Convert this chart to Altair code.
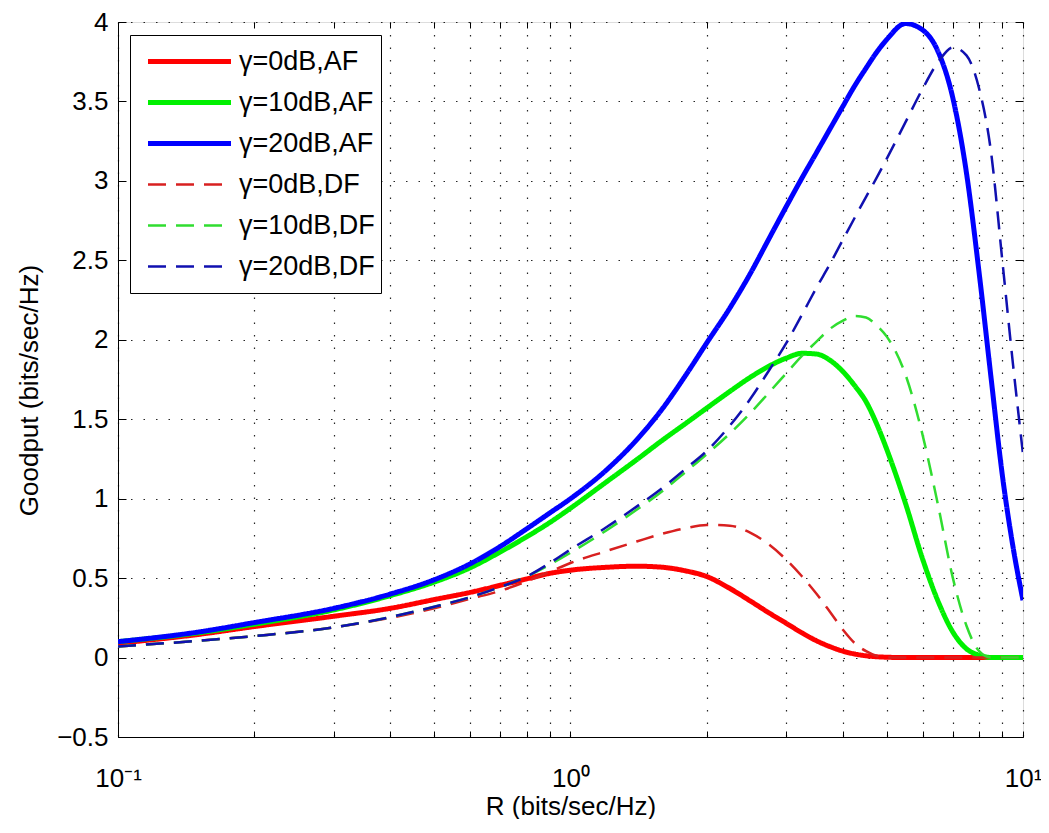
import altair as alt
import pandas as pd

# ---------------- data ----------------
R = [0.1, 0.15, 0.2, 0.3, 0.4, 0.5, 0.6, 0.7, 0.8, 0.9, 1.0, 1.2, 1.4, 1.6, 1.8,
     2.0, 2.25, 2.5, 2.75, 3.0, 3.25, 3.5, 3.75, 4.0, 4.25, 4.5, 4.75, 5.0,
     5.5, 6.0, 6.5, 7.0, 7.5, 8.0, 8.5, 9.0, 9.5, 10.0]

af_0dB = [0.09, 0.145, 0.195, 0.26, 0.31, 0.365, 0.41, 0.455, 0.495, 0.53, 0.55,
          0.568, 0.575, 0.568, 0.545, 0.51, 0.435, 0.355, 0.28, 0.215, 0.155, 0.105,
          0.068, 0.04, 0.022, 0.011, 0.005, 0.002,
          0, 0, 0, 0, 0, 0, 0, 0, 0, 0]
af_10dB = [0.10, 0.155, 0.21, 0.30, 0.39, 0.475, 0.565, 0.665, 0.76, 0.85, 0.94,
           1.105, 1.245, 1.37, 1.475, 1.57, 1.675, 1.765, 1.835, 1.885, 1.915, 1.91,
           1.87, 1.80, 1.71, 1.61, 1.47, 1.31,
           0.97, 0.62, 0.35, 0.16, 0.055, 0.015, 0.0, 0.0, 0.0, 0.0]
af_20dB = [0.10, 0.16, 0.22, 0.31, 0.40, 0.49, 0.59, 0.70, 0.81, 0.91, 1.0,
           1.18, 1.37, 1.57, 1.78, 1.98, 2.20, 2.42, 2.64, 2.84, 3.02, 3.18,
           3.33, 3.47, 3.60, 3.71, 3.81, 3.89,
           3.99, 3.95, 3.81, 3.52, 3.05, 2.42, 1.76, 1.15, 0.70, 0.36]
df_0dB = [0.07, 0.105, 0.135, 0.19, 0.25, 0.31, 0.37, 0.42, 0.48, 0.54, 0.595,
          0.67, 0.73, 0.78, 0.815, 0.835, 0.83, 0.785, 0.71, 0.615, 0.51, 0.40,
          0.285, 0.175, 0.09, 0.04, 0.01, 0.0,
          0, 0, 0, 0, 0, 0, 0, 0, 0, 0]
df_10dB = [0.07, 0.105, 0.135, 0.19, 0.255, 0.32, 0.38, 0.445, 0.51, 0.585, 0.66,
           0.80, 0.93, 1.05, 1.17, 1.28, 1.41, 1.54, 1.67, 1.79, 1.90, 1.99,
           2.07, 2.12, 2.15, 2.14, 2.09, 2.02,
           1.78, 1.40, 0.95, 0.50, 0.20, 0.04, 0.0, 0.0, 0.0, 0.0]
df_20dB = [0.07, 0.105, 0.135, 0.19, 0.255, 0.32, 0.38, 0.445, 0.51, 0.595, 0.68,
           0.82, 0.95, 1.07, 1.19, 1.30, 1.46, 1.63, 1.81, 1.98, 2.16, 2.33,
           2.48, 2.63, 2.77, 2.90, 3.02, 3.14,
           3.37, 3.58, 3.75, 3.84, 3.79, 3.58, 3.18, 2.50, 1.85, 1.28]

series = ["γ=0dB,AF", "γ=10dB,AF", "γ=20dB,AF",
          "γ=0dB,DF", "γ=10dB,DF", "γ=20dB,DF"]
values = [af_0dB, af_10dB, af_20dB, df_0dB, df_10dB, df_20dB]

x_grid = [0.1, 0.2, 0.3, 0.4, 0.5, 0.6, 0.7, 0.8, 0.9,
          1, 2, 3, 4, 5, 6, 7, 8, 9, 10]
y_ticks = [-0.5, 0, 0.5, 1, 1.5, 2, 2.5, 3, 3.5, 4]

# ---------------- styles ----------------
colors = ["#ff0000", "#00f000", "#0000ff", "#d82020", "#30dd30", "#1010b0"]
dashes = [[1, 0], [1, 0], [1, 0], [18, 10], [18, 10], [18, 10]]
widths = [5, 5, 5, 2.5, 2.5, 2.5]

rows = []
for s, vals, w in zip(series, values, widths):
    for r, v in zip(R, vals):
        rows.append({"R": r, "G": v, "series": s, "w": w})
data = pd.DataFrame(rows)

W, H = 905, 715
FONT = "Liberation Sans"
FS = 26
GRID = dict(grid=True, gridColor="black", gridOpacity=0.85, gridDash=[1.5, 11], gridWidth=1.2)

xscale = alt.Scale(type="log", domain=[0.1, 10], nice=False)
yscale = alt.Scale(domain=[-0.5, 4], nice=False, zero=False)

x_main = alt.X(
    "R:Q", scale=xscale,
    axis=alt.Axis(
        values=x_grid,
        labelExpr="datum.value == 0.1 ? '10⁻¹' : (datum.value == 1 ? '10⁰' : (datum.value == 10 ? '10¹' : ''))",
        labelFlush=False, labelOverlap=False, labelFontSize=FS, labelFont=FONT,
        labelColor="black", labelPadding=49, labelBaseline="alphabetic",
        ticks=False, tickSize=0, domain=True, domainColor="black", domainWidth=1,
        title="R (bits/sec/Hz)", titleFontSize=FS, titleFont=FONT, titleFontWeight="normal",
        titleColor="black", titleX=W / 2, titleY=77, titleAlign="center",
        titleBaseline="alphabetic", **GRID,
    ),
)
y_main = alt.Y(
    "G:Q", scale=yscale,
    axis=alt.Axis(
        values=y_ticks, format="~g",
        labelFontSize=FS, labelFont=FONT, labelColor="black", labelPadding=10,
        ticks=False, tickSize=0, domain=True, domainColor="black", domainWidth=1,
        title="Goodput (bits/sec/Hz)", titleFontSize=FS, titleFont=FONT,
        titleFontWeight="normal", titleColor="black", titleAngle=270,
        titleX=-81, titleY=368, titleAlign="center", titleBaseline="alphabetic",
        **GRID,
    ),
)

legend = alt.Legend(
    orient="none", legendX=12, legendY=13, title=None,
    strokeColor="black", fillColor="white", padding=6, cornerRadius=0,
    symbolType="stroke", symbolSize=6889, clipHeight=41, rowPadding=0,
    symbolOffset=40, labelOffset=36, labelFontSize=27, labelFont=FONT,
    labelColor="black", labelLimit=400,
    symbolStrokeWidth={"expr": "(datum && isString(datum.value) && indexof(datum.value, 'AF') >= 0) ? 5 : 2.5"},
)

color_enc = alt.Color("series:N", scale=alt.Scale(domain=series, range=colors),
                      legend=legend)
dash_enc = alt.StrokeDash("series:N", scale=alt.Scale(domain=series, range=dashes),
                          legend=legend)
width_enc = alt.StrokeWidth("w:Q", scale=None, legend=None)

base = alt.Chart(data)
line_layers = []
for s in series:
    line_layers.append(
        base.transform_filter(alt.datum.series == s)
        .mark_line(interpolate="monotone", clip=True)
        .encode(x=x_main, y=y_main, color=color_enc,
                strokeDash=dash_enc, strokeWidth=width_enc)
    )
lines = alt.layer(*line_layers)


def tick_axis_x(orient):
    return alt.X("R:Q", scale=xscale, axis=alt.Axis(
        orient=orient, offset=-H, values=x_grid, labels=False, domain=False,
        grid=False, ticks=True, tickSize=6, tickColor="black", tickWidth=1,
        title=None))


def tick_axis_y(orient):
    return alt.Y("G:Q", scale=yscale, axis=alt.Axis(
        orient=orient, offset=-W, values=y_ticks, labels=False, domain=False,
        grid=False, ticks=True, tickSize=8, tickColor="black", tickWidth=1,
        title=None))


ticks_a = base.mark_point(opacity=0).encode(x=tick_axis_x("top"), y=tick_axis_y("right"))
ticks_b = base.mark_point(opacity=0).encode(x=tick_axis_x("bottom"), y=tick_axis_y("left"))

chart = (
    alt.layer(lines, ticks_a, ticks_b)
    .resolve_axis(x="independent", y="independent")
    .properties(
        width=W, height=H,
        autosize=alt.AutoSizeParams(type="none"),
        padding={"left": 110, "top": 14, "right": 18, "bottom": 82},
    )
    .configure_view(stroke="black", strokeWidth=1)
    .configure(font=FONT, background="white")
)

chart.save("out.html", embed_options={"renderer": "svg", "actions": False})
